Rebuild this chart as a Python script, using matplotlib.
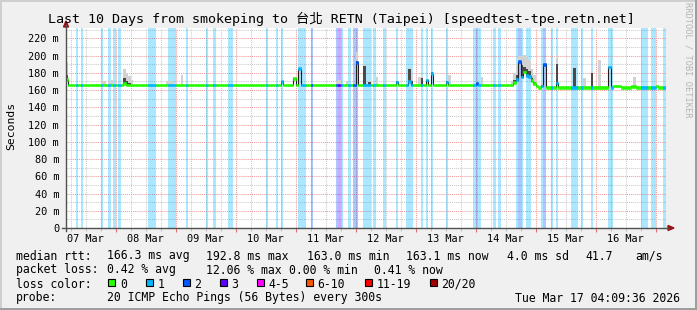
import datetime as dt
import numpy as np
import matplotlib
matplotlib.use("Agg")
import matplotlib.pyplot as plt
import matplotlib.dates as mdates
from matplotlib.ticker import MultipleLocator, FuncFormatter, NullFormatter
from matplotlib.patches import Rectangle, Polygon
from matplotlib.lines import Line2D

# ------------------------------------------------------------------ data
title = "Last 10 Days from smokeping to 台北 RETN (Taipei) [speedtest-tpe.retn.net]"
end_time = dt.datetime(2026, 3, 17, 4, 9, 36)
first_row = dt.datetime(2026, 3, 7, 4, 0, 0)      # hourly RRD rows
n_rows = 241

# median RTT baseline (ms): level valid from the given row on
base_from = [0, 189]
base_ms = [166.0, 163.1]
# rows whose median departs from the baseline
med_rows = [0, 23, 86, 91, 93, 116, 132, 137, 144, 146, 152, 164,
            179, 180, 181, 182, 183, 184, 185, 186, 187, 188,
            190, 191, 196, 217, 219, 220, 221, 226, 227, 236]
med_ms = [172.0, 167.7, 170.0, 173.5, 185.0, 192.0, 169.6, 170.0, 171.6, 179.0, 169.6, 167.7,
          169.0, 172.0, 192.8, 175.0, 181.0, 177.0, 176.0, 171.0, 167.5, 164.5,
          164.6, 190.0, 168.0, 187.0, 164.5, 164.5, 164.5, 164.2, 164.2, 164.5]

# smoke (spread of the 20 pings): dense part top and sparse part top (ms)
smoke_rows = [0, 14, 15, 17, 18, 23, 24, 25, 26, 40, 41, 42, 46, 86, 91,
              108, 109, 112, 116, 119, 121, 124, 132, 137, 138, 141, 142, 144, 146,
              152, 153, 164, 166, 178, 179, 180, 181, 182, 183, 184, 185, 186, 187,
              190, 191, 196, 203, 207, 210, 213, 217, 227]
smoke_dense = [178, 166, 166, 166, 166, 174, 170, 168, 166, 166, 166, 166, 166, 171, 174,
               166, 166, 166, 194, 188, 169, 166, 170, 185, 170, 166, 173.5, 172, 180.5,
               170, 166, 168, 166, 166, 172, 178, 193, 189, 187, 185, 182, 174, 169,
               166, 190, 190, 186, 164, 180, 164, 187, 164]
smoke_sparse = [193, 173, 171, 171, 172, 184.5, 180, 176, 172, 170, 171, 170, 178, 172, 175,
                171, 171.5, 171, 204, 189, 170, 175, 171, 186, 178, 175.5, 175, 173, 181,
                171, 177.4, 169, 175.5, 170, 180, 190, 200, 200, 200.6, 200, 195, 185, 178,
                168, 191, 201, 187, 174, 182, 195, 188, 175.5]

# packet-loss episodes: first row, end row (exclusive), lost pings of 20
loss_from = [4, 6, 14, 17, 19, 21, 33, 41, 48, 56, 59, 65, 80, 84, 86, 93, 98, 108, 109, 110,
             113, 115, 119, 123, 127, 132, 136, 142, 144, 146, 152, 163, 164, 165, 171, 173,
             180, 181, 182, 184, 190, 191, 194, 196, 202, 206, 210, 217, 230, 234, 239]
loss_to = [5, 7, 15, 18, 20, 22, 36, 44, 49, 57, 60, 67, 81, 85, 87, 96, 99, 109, 110, 111,
           114, 117, 122, 124, 128, 133, 139, 143, 145, 147, 153, 164, 165, 166, 172, 174,
           181, 182, 183, 186, 191, 192, 195, 197, 205, 207, 211, 219, 233, 236, 240]
loss_n = [1, 1, 1, 1, 1, 1, 1, 1, 1, 1, 1, 1, 1, 1, 1, 1, 2, 2, 3, 1,
          1, 2, 1, 1, 1, 1, 1, 1, 1, 1, 1, 1, 2, 1, 1, 1,
          1, 2, 1, 1, 1, 2, 1, 1, 1, 1, 1, 1, 1, 1, 1]

loss_labels = ["0", "1", "2", "3", "4-5", "6-10", "11-19", "20/20"]
loss_colors = ["#26ff00", "#00b8ff", "#0059ff", "#5e00ff", "#ff00ff", "#ff5500", "#ff0000", "#a10000"]

stats_rtt = ["166.3 ms avg", "192.8 ms max", "163.0 ms min", "163.1 ms now", "4.0 ms sd", "41.7", "am/s"]
stats_loss = ["0.42 % avg", "12.06 % max", "0.00 % min", "0.41 % now"]
probe_text = "20 ICMP Echo Pings (56 Bytes) every 300s"
stamp_text = "Tue Mar 17 04:09:36 2026"

# ------------------------------------------------------------------ setup
W, H = 697, 310
plt.rcParams['font.family'] = ['DejaVu Sans Mono', 'Noto Sans CJK TC']
fig = plt.figure(figsize=(W / 100, H / 100), dpi=100, facecolor='#f0f0f0')

def fx(px):
    return px / W

def fy(py):
    return 1 - py / H

ax = fig.add_axes([fx(66), fy(228), 600 / W, 200 / H])
ax.set_facecolor('white')
YTOP = 232
ax.set_ylim(0, YTOP)
ax.set_xlim(mdates.date2num(end_time - dt.timedelta(days=10)), mdates.date2num(end_time))
for s in ax.spines.values():
    s.set_visible(False)

def lc(n):
    if n <= 0:
        return loss_colors[0]
    if n == 1:
        return loss_colors[1]
    if n == 2:
        return loss_colors[2]
    if n == 3:
        return loss_colors[3]
    if n <= 5:
        return loss_colors[4]
    if n <= 10:
        return loss_colors[5]
    if n <= 19:
        return loss_colors[6]
    return loss_colors[7]

row_x = np.array([mdates.date2num(first_row + dt.timedelta(hours=k)) for k in range(n_rows)])
hour = 1 / 24

median = np.zeros(n_rows)
for start, v in zip(base_from, base_ms):
    median[start:] = v
for r, v in zip(med_rows, med_ms):
    median[r] = v
loss = np.zeros(n_rows, dtype=int)
for a, b, n in zip(loss_from, loss_to, loss_n):
    loss[a:b] = n

# grid
ax.set_axisbelow(True)
ax.yaxis.set_major_locator(MultipleLocator(20))
ax.yaxis.set_minor_locator(MultipleLocator(10))
ax.yaxis.set_major_formatter(FuncFormatter(lambda v, p: "0" if v == 0 else f"{v:.0f} m"))
ax.xaxis.set_major_locator(mdates.DayLocator())
ax.xaxis.set_major_formatter(NullFormatter())
ax.xaxis.set_minor_locator(mdates.HourLocator(byhour=[6, 12, 18]))
ax.xaxis.set_minor_formatter(FuncFormatter(
    lambda v, p: mdates.num2date(v).strftime('%d %b') if mdates.num2date(v).hour == 12 else ""))
dots = (0, (1, 1))
ax.grid(which='major', color='#f29a9a', linestyle=dots, linewidth=0.75)
ax.grid(which='minor', color='#cacaca', linestyle=dots, linewidth=0.75)
ax.tick_params(axis='y', which='both', length=0, pad=5, labelsize=7.4, labelcolor='black')
ax.tick_params(axis='x', which='major', length=3, color='#e07070', width=0.75)
ax.tick_params(axis='x', which='minor', length=2, color='#c0c0c0', width=0.75, pad=2.5,
               labelsize=7.4, labelcolor='black')

# loss background bands
for a, b, n in zip(loss_from, loss_to, loss_n):
    ax.bar(row_x[a], YTOP, bottom=0, width=(b - a) * hour, align='edge',
           color=lc(n), alpha=0.33, linewidth=0, zorder=1)

# smoke
for r, dense, sparse in zip(smoke_rows, smoke_dense, smoke_sparse):
    lo = median[r] - 1.5
    ax.bar(row_x[r], sparse - lo, bottom=lo, width=hour, align='edge',
           color='#d2d2d2', linewidth=0, zorder=2)
    if dense > median[r] - 1:
        ax.bar(row_x[r], dense - lo, bottom=lo, width=hour, align='edge',
               color='#4a4a4a', linewidth=0, zorder=2.2)

# thin median line
ax.step(np.append(row_x, row_x[-1] + hour), np.append(median, median[-1]), where='post',
        color='#202020', linewidth=0.8, zorder=3)
# coloured median band
cols = [lc(n) for n in loss]
ax.bar(row_x, 3.0, bottom=median - 1.5, width=hour, align='edge', color=cols,
       edgecolor=cols, linewidth=0.4, zorder=4)

# axes with arrows
axis_col = '#505050'
arrow_col = '#9c1010'
fig.add_artist(Line2D([fx(66), fx(66)], [fy(231), fy(25)], color=axis_col, lw=1.0))
fig.add_artist(Line2D([fx(62), fx(669)], [fy(228), fy(228)], color=axis_col, lw=1.0))
fig.add_artist(Polygon([[fx(63.5), fy(27)], [fx(68.5), fy(27)], [fx(66), fy(21)]],
                       closed=True, color=arrow_col, transform=fig.transFigure))
fig.add_artist(Polygon([[fx(668), fy(225.5)], [fx(668), fy(230.5)], [fx(674), fy(228)]],
                       closed=True, color=arrow_col, transform=fig.transFigure))

# titles
fig.text(fx(48), fy(19), title, ha='left', va='center', fontsize=9.6, color='black')
fig.text(fx(11), fy(126), "Seconds", rotation=90, ha='center', va='center', fontsize=8.2)
fig.text(fx(688), fy(60), "RRDTOOL / TOBI OETIKER", rotation=270, ha='center', va='center',
         fontsize=6.2, color='#b4b4b4')

# legend rows
LS = 8.3
def row_text(x, y, s, ha='left'):
    fig.text(fx(x), fy(y), s, ha=ha, va='center_baseline', fontsize=LS, color='black')

row_text(16, 254.5, "median rtt:")
for x, s in zip([107, 206.5, 307, 406.5, 507, 585.5, 635], stats_rtt):
    row_text(x, 254.5, s)
row_text(16, 268.5, "packet loss:")
for x, s in zip([107, 205.5, 289, 373.5], stats_loss):
    row_text(x, 268.5, s)
row_text(16, 282.5, "loss color:")
box_x = [108.3, 145.7, 182.7, 220, 257.3, 306, 365, 430]
for x, lab, c in zip(box_x, loss_labels, loss_colors):
    fig.add_artist(Rectangle((fx(x), fy(285.5)), 7 / W, 7 / H, facecolor=c, edgecolor='black',
                             linewidth=0.8, transform=fig.transFigure))
    row_text(x + 11.5, 282.5, lab)
row_text(16, 296.5, "probe:")
row_text(107, 296.5, probe_text)
row_text(680, 296.5, stamp_text, ha='right')

# frame
fig.add_artist(Rectangle((0, fy(2)), 1, 2 / H, color='#cfcfcf', transform=fig.transFigure, lw=0))
fig.add_artist(Rectangle((0, 0), 2 / W, 1, color='#cfcfcf', transform=fig.transFigure, lw=0))
fig.add_artist(Rectangle((0, 0), 1, 2 / H, color='#9e9e9e', transform=fig.transFigure, lw=0))
fig.add_artist(Rectangle((fx(695), 0), 2 / W, 1, color='#9e9e9e', transform=fig.transFigure, lw=0))

fig.savefig("out.png", dpi=100, facecolor=fig.get_facecolor())
